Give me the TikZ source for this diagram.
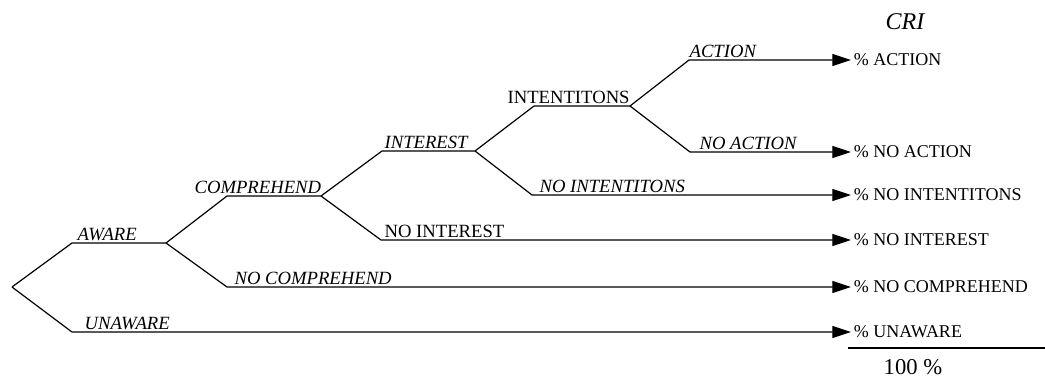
\documentclass[tikz,border=0pt]{standalone}
\usepackage{fontspec}
\setmainfont{Liberation Serif}
\usetikzlibrary{arrows.meta}

\tikzset{
  br/.style={line width=0.9pt, line join=round},
  arr/.style={br, -{Triangle[length=14pt,width=9pt]}},
  lbl/.style={anchor=south west, inner sep=1pt, font=\fontsize{14}{16}\selectfont\itshape},
  lblup/.style={lbl, font=\fontsize{14}{16}\selectfont},
  res/.style={anchor=west, inner sep=2pt, font=\fontsize{13.5}{16}\selectfont}
}

\begin{document}
\begin{tikzpicture}[x=0.75pt, y=-0.75pt]
\useasboundingbox (0,0) rectangle (1045,378);

% branch points
\coordinate (root) at (12,287);
\coordinate (aw) at (72,243);
\coordinate (awE) at (166,243);
\coordinate (comp) at (227,196);
\coordinate (compE) at (321,196);
\coordinate (int) at (382,151);
\coordinate (intE) at (475,151);
\coordinate (inten) at (534,106);
\coordinate (intenE) at (630,106);
\coordinate (act) at (689,60);
\coordinate (noact) at (690,152);
\coordinate (nointen) at (532,195);
\coordinate (noint) at (381,240);
\coordinate (nocomp) at (227,287);
\coordinate (unaw) at (72,332);

% results
\node[res] (rAct) at (851,60) {\% ACTION};
\node[res] (rNoAct) at (851,152) {\% NO ACTION};
\node[res] (rNoInten) at (851,195) {\% NO INTENTITONS};
\node[res] (rNoInt) at (851,240) {\% NO INTEREST};
\node[res] (rNoComp) at (851,287) {\% NO COMPREHEND};
\node[res] (rUnaw) at (851,332) {\% UNAWARE};

\draw[br] (root) -- (aw) -- (awE) -- (comp) -- (compE) -- (int) -- (intE) -- (inten) -- (intenE);
\draw[arr] (intenE) -- (act) -- (rAct.west);
\draw[arr] (intenE) -- (noact) -- (rNoAct.west);
\draw[arr] (intE) -- (nointen) -- (rNoInten.west);
\draw[arr] (compE) -- (noint) -- (rNoInt.west);
\draw[arr] (awE) -- (nocomp) -- (rNoComp.west);
\draw[arr] (root) -- (unaw) -- (rUnaw.west);

% branch labels
\node[lbl] (lAware) at (76,242) {AWARE};
\node[lbl] (lComp) at (193,195) {COMPREHEND};
\node[lbl] (lInt) at (383,150) {INTEREST};
\node[lblup] (lInten) at (506,105) {INTENTITONS};
\node[lbl] (lAct) at (688,59) {ACTION};
\node[lbl] (lNoAct) at (698,151) {NO ACTION};
\node[lbl] (lNoInten) at (538,194) {NO INTENTITONS};
\node[lblup] (lNoInt) at (383,239) {NO INTEREST};
\node[lbl] (lNoComp) at (233,286) {NO COMPREHEND};
\node[lbl] (lUnaw) at (83,331) {UNAWARE};

% total
\coordinate (sumL) at (848,348);
\coordinate (sumR) at (1045,348);
\draw[br] (sumL) -- (sumR);
\node[font=\fontsize{17}{19}\selectfont] (total) at (913,367) {100 \%};
\node[font=\fontsize{18}{20}\selectfont\itshape] (cri) at (905,22) {CRI};
\end{tikzpicture}
\end{document}
